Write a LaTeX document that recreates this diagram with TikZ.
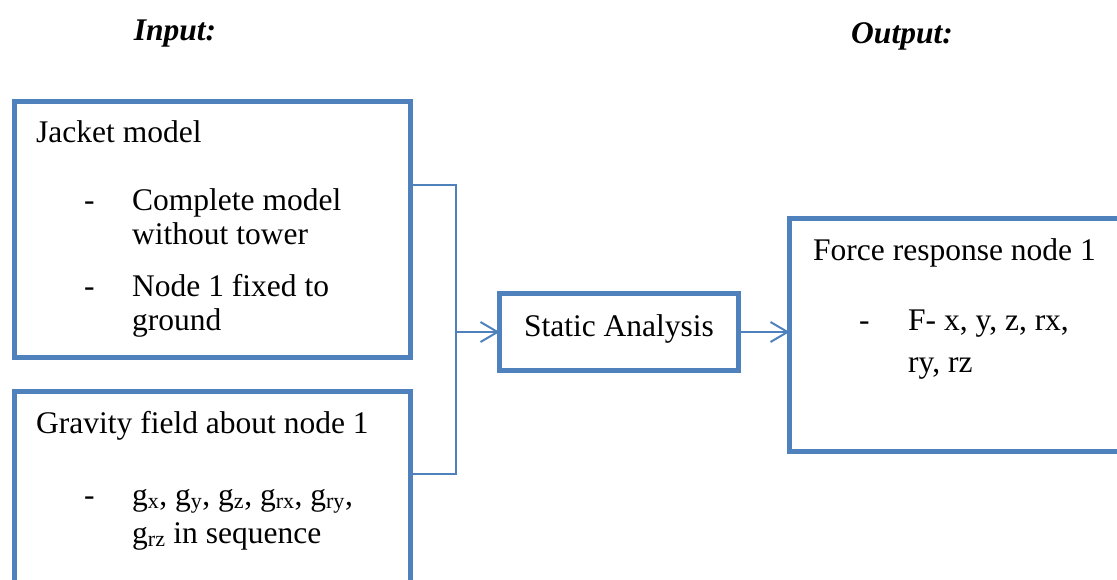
\documentclass[tikz,border=0pt]{standalone}
\usepackage{fontspec}
\setmainfont{Liberation Serif}
\usetikzlibrary{arrows.meta}
\usetikzlibrary{positioning}
\definecolor{boxblue}{RGB}{79,129,189}
\newcommand{\diagfont}{\fontsize{31.5}{34}\selectfont}
\tikzset{>={Straight Barb[length=17pt,width=20pt]}}
\tikzset{box/.style={draw=boxblue, line width=5pt, outer sep=0pt, inner sep=0pt}}
\tikzset{txt/.style={font=\diagfont, inner sep=0pt, anchor=base west}}
\tikzset{head/.style={font=\diagfont\bfseries\itshape, inner sep=0pt, anchor=base}}
\tikzset{link/.style={draw=boxblue, line width=2pt}}

\begin{document}
\begin{tikzpicture}[x=1pt, y=-1pt]
\useasboundingbox (0,0) rectangle (1117,579);
\clip (0,0) rectangle (1117,579);

\node[head] (in) at (175,40) {Input:};
\node[head] (out) at (902,43) {Output:};

% input boxes
\node[box, anchor=north west, minimum width=396pt, minimum height=256.5pt] (jacket) at (14.5,101) {};
\node[txt] (jackethead) at (36,142) {Jacket model};
\node[txt] (jacketlist) at (84,210) {\begin{tabular}[t]{@{}p{48pt}@{}l@{}}
  - & Complete model\\
    & without tower\\[18pt]
  - & Node 1 fixed to\\
    & ground
\end{tabular}};

\node[box, anchor=north west, minimum width=396pt, minimum height=230pt] (gravity) at (14.5,391.5) {};
\node[txt] (gravityhead) at (36,433) {Gravity field about node 1};
\node[txt] (gravitylist) at (84,505) {\begin{tabular}[t]{@{}p{48pt}@{}l@{}}
  - & g\textsubscript{x}, g\textsubscript{y}, g\textsubscript{z}, g\textsubscript{rx}, g\textsubscript{ry},\\[4pt]
    & g\textsubscript{rz} in sequence
\end{tabular}};

% analysis and output
\node[box, minimum width=239pt, minimum height=77pt, font=\diagfont, text height=21.5pt, text depth=13.5pt] (static) at (619,332) {Static Analysis};

\node[box, anchor=north west, minimum width=360pt, minimum height=233pt] (force) at (789.5,218.5) {};
\node[txt] (forcehead) at (813,260) {Force response node 1};
\node[txt] (forcelist) at (859,330) {\begin{tabular}[t]{@{}p{49pt}@{}l@{}}
  - & F- x, y, z, rx,\\[8pt]
    & ry, rz
\end{tabular}};

\coordinate (join) at (456,332);
\draw[link] ([yshift=-84pt]jacket.north east) -| (join);
\draw[link] ([yshift=-82.5pt]gravity.north east) -| (join);
\draw[link, ->] (join) -- (static);
\draw[link, ->] (static) -- (static -| force.west);
\end{tikzpicture}
\end{document}
